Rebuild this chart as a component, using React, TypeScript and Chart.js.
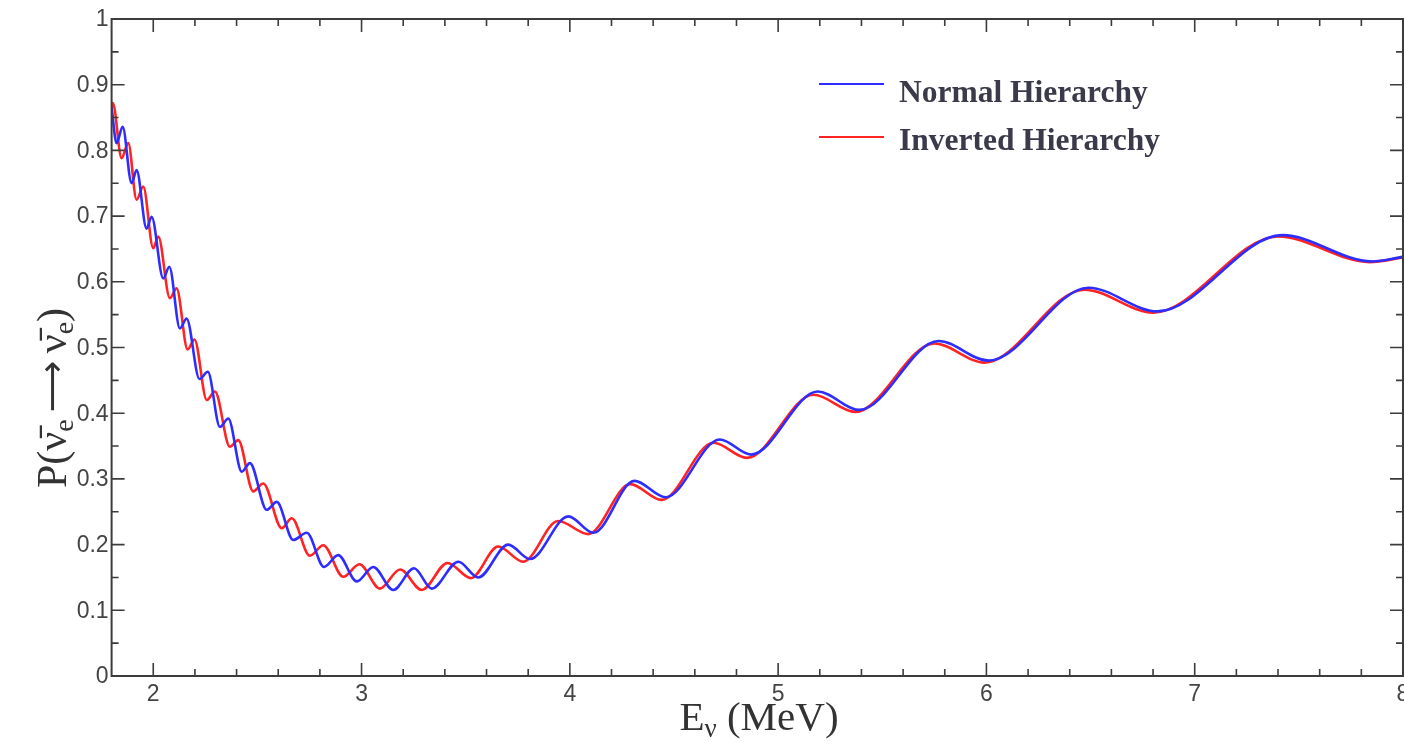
import React, { useEffect, useRef } from 'react';
import { Chart, registerables } from 'chart.js';

Chart.register(...registerables);

// Normal hierarchy (blue): energies (MeV) and survival probabilities
const nhEnergy = [1.800, 1.824, 1.853, 1.896, 1.920, 1.968, 1.992, 2.048, 2.077, 2.128, 2.160, 2.222, 2.262, 2.320, 2.360, 2.425, 2.464, 2.545, 2.593, 2.672, 2.737, 2.820, 2.888, 2.977, 3.056, 3.152, 3.252, 3.337, 3.465, 3.560, 3.704, 3.809, 3.993, 4.113, 4.31, 4.46, 4.72, 4.87, 5.19, 5.39, 5.77, 6.01, 6.49, 6.82, 7.42, 7.85, 8.0];
const nhProb = [0.865, 0.811, 0.836, 0.750, 0.770, 0.681, 0.699, 0.605, 0.623, 0.529, 0.544, 0.452, 0.463, 0.379, 0.392, 0.311, 0.324, 0.253, 0.265, 0.207, 0.218, 0.166, 0.184, 0.144, 0.166, 0.131, 0.164, 0.133, 0.174, 0.150, 0.200, 0.178, 0.243, 0.218, 0.297, 0.272, 0.360, 0.337, 0.433, 0.405, 0.510, 0.480, 0.591, 0.555, 0.671, 0.631, 0.638];

// Inverted hierarchy (red)
const ihEnergy = [1.800, 1.806, 1.848, 1.880, 1.920, 1.952, 2.000, 2.024, 2.080, 2.112, 2.165, 2.198, 2.257, 2.296, 2.368, 2.408, 2.480, 2.528, 2.617, 2.665, 2.752, 2.816, 2.912, 2.990, 3.088, 3.185, 3.289, 3.413, 3.525, 3.656, 3.776, 3.944, 4.088, 4.29, 4.44, 4.69, 4.85, 5.17, 5.37, 5.75, 5.99, 6.47, 6.80, 7.40, 7.84, 8.0];
const ihProb = [0.862, 0.872, 0.788, 0.811, 0.725, 0.745, 0.651, 0.669, 0.575, 0.590, 0.497, 0.512, 0.420, 0.433, 0.349, 0.359, 0.281, 0.293, 0.225, 0.240, 0.183, 0.199, 0.151, 0.170, 0.133, 0.162, 0.131, 0.172, 0.149, 0.197, 0.174, 0.236, 0.216, 0.292, 0.268, 0.355, 0.332, 0.428, 0.402, 0.506, 0.477, 0.588, 0.553, 0.669, 0.630, 0.637];

const seriesNames = ['Normal Hierarchy', 'Inverted Hierarchy'];
const seriesColors = ['rgb(45,45,255)', 'rgb(255,35,35)'];

const xMin = 1.8;
const xMax = 8;
const yMin = 0;
const yMax = 1;
const xTickValues = [2, 3, 4, 5, 6, 7, 8];
const xTickLabels = ['2', '3', '4', '5', '6', '7', '8'];
const xMinorStep = 0.2;
const yTickValues = [0, 0.1, 0.2, 0.3, 0.4, 0.5, 0.6, 0.7, 0.8, 0.9, 1];
const yTickLabels = ['0', '0.1', '0.2', '0.3', '0.4', '0.5', '0.6', '0.7', '0.8', '0.9', '1'];
const yMinorStep = 0.05;

type Seg = { t: string; font: string; dy: number };

function drawSegs(ctx: CanvasRenderingContext2D, segs: Seg[], cx: number, baseY: number) {
  let total = 0;
  const widths = segs.map((s) => {
    ctx.font = s.font;
    const w = ctx.measureText(s.t).width;
    total += w;
    return w;
  });
  let x = cx - total / 2;
  ctx.textAlign = 'left';
  ctx.textBaseline = 'alphabetic';
  segs.forEach((s, i) => {
    ctx.font = s.font;
    ctx.fillText(s.t, x, baseY + s.dy);
    x += widths[i];
  });
}

const framePlugin = {
  id: 'framePlugin',
  afterDraw(chart: any) {
    const { ctx, chartArea } = chart;
    const xs = chart.scales.x;
    const ys = chart.scales.y;
    const { left, right, top, bottom } = chartArea;
    ctx.save();
    ctx.strokeStyle = '#3c3c3c';
    ctx.lineWidth = 2;
    ctx.strokeRect(left, top, right - left, bottom - top);

    // ticks (inward, on all four sides)
    ctx.lineWidth = 1.6;
    ctx.beginPath();
    const nX = Math.round((xMax - xMin) / xMinorStep);
    for (let i = 1; i < nX; i++) {
      const v = xMin + i * xMinorStep;
      const major = Math.abs(v - Math.round(v)) < 1e-6;
      const len = major ? 13 : 7;
      const px = xs.getPixelForValue(v);
      ctx.moveTo(px, bottom);
      ctx.lineTo(px, bottom - len);
      ctx.moveTo(px, top);
      ctx.lineTo(px, top + len);
    }
    const nY = Math.round((yMax - yMin) / yMinorStep);
    for (let i = 1; i < nY; i++) {
      const v = yMin + i * yMinorStep;
      const major = i % 2 === 0;
      const len = major ? 13 : 7;
      const py = ys.getPixelForValue(v);
      ctx.moveTo(left, py);
      ctx.lineTo(left + len, py);
      ctx.moveTo(right, py);
      ctx.lineTo(right - len, py);
    }
    ctx.stroke();

    // tick labels
    ctx.fillStyle = '#444';
    ctx.font = '23px "Liberation Sans", Arial, sans-serif';
    ctx.textAlign = 'right';
    ctx.textBaseline = 'middle';
    yTickValues.forEach((v, i) => {
      ctx.fillText(yTickLabels[i], left - 3, ys.getPixelForValue(v) + 1);
    });
    ctx.textAlign = 'center';
    ctx.textBaseline = 'middle';
    xTickValues.forEach((v, i) => {
      ctx.fillText(xTickLabels[i], xs.getPixelForValue(v), bottom + 19);
    });

    // axis titles
    ctx.fillStyle = '#333';
    const bigX = '41px "Liberation Serif", serif';
    const subX = '27px "Liberation Serif", serif';
    drawSegs(ctx, [
      { t: 'E', font: bigX, dy: 0 },
      { t: 'ν', font: subX, dy: 7 },
      { t: ' (MeV)', font: bigX, dy: 0 },
    ], 759, 730);

    const bigY = '42px "Liberation Serif", serif';
    const subY = '28px "Liberation Serif", serif';
    const arrowF = '36px "DejaVu Sans", sans-serif';
    ctx.save();
    ctx.translate(66, 398);
    ctx.rotate(-Math.PI / 2);
    drawSegs(ctx, [
      { t: 'P(', font: bigY, dy: 0 },
      { t: 'ν\u0304', font: bigY, dy: 0 },
      { t: 'e', font: subY, dy: 7 },
      { t: '\u2009\u27F6\u2009', font: arrowF, dy: -2 },
      { t: 'ν\u0304', font: bigY, dy: 0 },
      { t: 'e', font: subY, dy: 7 },
      { t: ')', font: bigY, dy: 0 },
    ], 0, 0);
    ctx.restore();

    // legend
    const legendY = [84, 137];
    const legendBase = [101.5, 150];
    ctx.font = 'bold 31.5px "Liberation Serif", serif';
    ctx.textAlign = 'left';
    ctx.textBaseline = 'alphabetic';
    seriesNames.forEach((name, i) => {
      ctx.strokeStyle = seriesColors[i];
      ctx.lineWidth = 2;
      ctx.beginPath();
      ctx.moveTo(819, legendY[i]);
      ctx.lineTo(884, legendY[i]);
      ctx.stroke();
      ctx.fillStyle = '#3a3a4a';
      ctx.fillText(name, 899, legendBase[i]);
    });
    ctx.restore();
  },
};

export default function App() {
  const canvasRef = useRef<HTMLCanvasElement | null>(null);

  useEffect(() => {
    document.body.style.margin = '0';
    const canvas = canvasRef.current;
    if (!canvas) return;
    const chart = new Chart(canvas, {
      type: 'line',
      data: {
        datasets: [
          {
            label: seriesNames[0],
            data: nhEnergy.map((e, i) => ({ x: e, y: nhProb[i] })),
            borderColor: seriesColors[0],
            borderWidth: 2.6,
            pointRadius: 0,
            cubicInterpolationMode: 'monotone',
            fill: false,
          },
          {
            label: seriesNames[1],
            data: ihEnergy.map((e, i) => ({ x: e, y: ihProb[i] })),
            borderColor: seriesColors[1],
            borderWidth: 2.6,
            pointRadius: 0,
            cubicInterpolationMode: 'monotone',
            fill: false,
          },
        ],
      },
      options: {
        animation: false,
        responsive: false,
        devicePixelRatio: 1,
        layout: { padding: { left: 111.6, top: 19, right: 1, bottom: 66 } },
        scales: {
          x: { type: 'linear', min: xMin, max: xMax, display: false },
          y: { type: 'linear', min: yMin, max: yMax, display: false },
        },
        plugins: {
          legend: { display: false },
          tooltip: { enabled: false },
        },
      },
      plugins: [framePlugin],
    });
    return () => chart.destroy();
  }, []);

  return (
    <div style={{ width: 1404, height: 742, background: '#fff' }}>
      <canvas ref={canvasRef} width={1404} height={742} style={{ display: 'block' }} />
    </div>
  );
}
